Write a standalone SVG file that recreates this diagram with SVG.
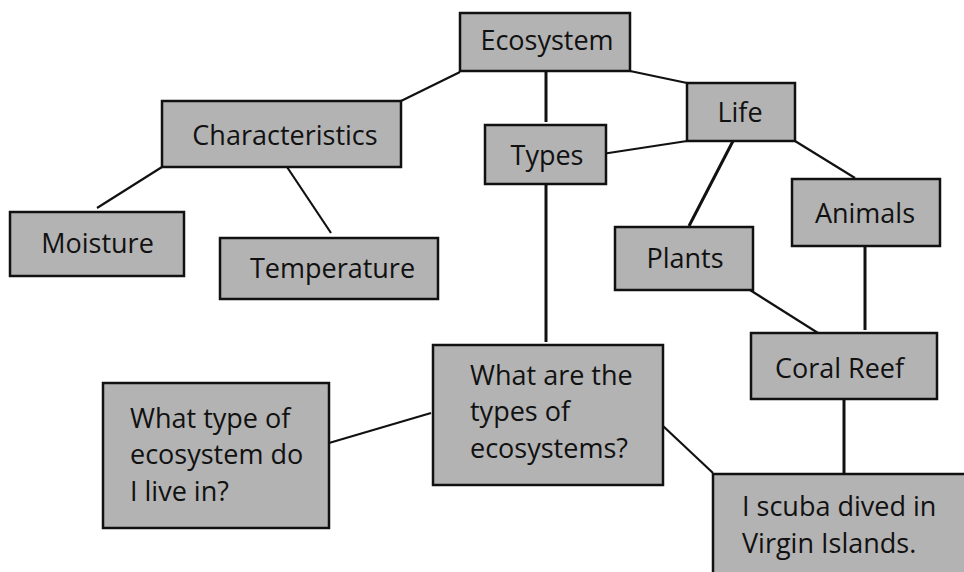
<svg xmlns="http://www.w3.org/2000/svg" width="964" height="572" viewBox="0 0 964 572">
<style>
.box{fill:#b3b3b3;stroke:#111;stroke-width:2.5}
.t{font-family:"Open Sans","Noto Sans","Liberation Sans",sans-serif;font-size:27px;fill:#111}
.c{text-anchor:middle}
.ln{stroke:#111;stroke-width:2.2;fill:none}
.v{stroke-width:3}
</style>
<rect width="964" height="572" fill="#fff"/>
<g id="connectors">
<line class="ln" x1="460" y1="72" x2="401" y2="101"/>
<line class="ln v" x1="546" y1="71" x2="546" y2="122"/>
<line class="ln" x1="630" y1="71" x2="687" y2="83"/>
<line class="ln" x1="687" y1="141" x2="602" y2="154"/>
<line class="ln v" x1="733" y1="141" x2="689" y2="226"/>
<line class="ln" x1="795" y1="141" x2="855" y2="178"/>
<line class="ln" x1="162" y1="167" x2="97" y2="208"/>
<line class="ln" x1="287" y1="167" x2="331" y2="233"/>
<line class="ln v" x1="546" y1="184" x2="546" y2="342"/>
<line class="ln v" x1="865" y1="246" x2="865" y2="330"/>
<line class="ln" x1="750" y1="290" x2="818" y2="333"/>
<line class="ln" x1="431" y1="413" x2="329" y2="443"/>
<line class="ln" x1="663" y1="426" x2="713" y2="473"/>
<line class="ln v" x1="844" y1="399" x2="844" y2="473"/>
</g>
<g id="ecosystem"><rect class="box" x="460" y="13" width="170" height="58"/><text class="t c" x="547" y="50">Ecosystem</text></g>
<g id="characteristics"><rect class="box" x="162" y="101" width="239" height="66"/><text class="t c" x="285" y="145">Characteristics</text></g>
<g id="moisture"><rect class="box" x="10" y="212" width="174" height="64"/><text class="t c" x="97.5" y="253">Moisture</text></g>
<g id="temperature"><rect class="box" x="220" y="238" width="218" height="61"/><text class="t c" x="332.5" y="278">Temperature</text></g>
<g id="types"><rect class="box" x="485" y="125" width="121" height="59"/><text class="t c" x="547" y="165">Types</text></g>
<g id="life"><rect class="box" x="687" y="83" width="108" height="58"/><text class="t c" x="740" y="122">Life</text></g>
<g id="animals"><rect class="box" x="792" y="179" width="148" height="67"/><text class="t c" x="865" y="223">Animals</text></g>
<g id="plants"><rect class="box" x="615" y="227" width="138" height="63"/><text class="t c" x="685" y="268">Plants</text></g>
<g id="coral-reef"><rect class="box" x="751" y="333" width="186" height="66"/><text class="t c" x="839.5" y="378">Coral Reef</text></g>
<g id="what-are"><rect class="box" x="433" y="345" width="230" height="140"/><text class="t" x="470" y="385">What are the</text><text class="t" x="470" y="421">types of</text><text class="t" x="470" y="458">ecosystems?</text></g>
<g id="what-type"><rect class="box" x="103" y="383" width="226" height="145"/><text class="t" x="130" y="428">What type of</text><text class="t" x="130" y="464">ecosystem do</text><text class="t" x="130" y="501">I live in?</text></g>
<g id="scuba"><rect class="box" x="713" y="474" width="270" height="120"/><text class="t" x="742" y="516">I scuba dived in</text><text class="t" x="742" y="553">Virgin Islands.</text></g>
</svg>
